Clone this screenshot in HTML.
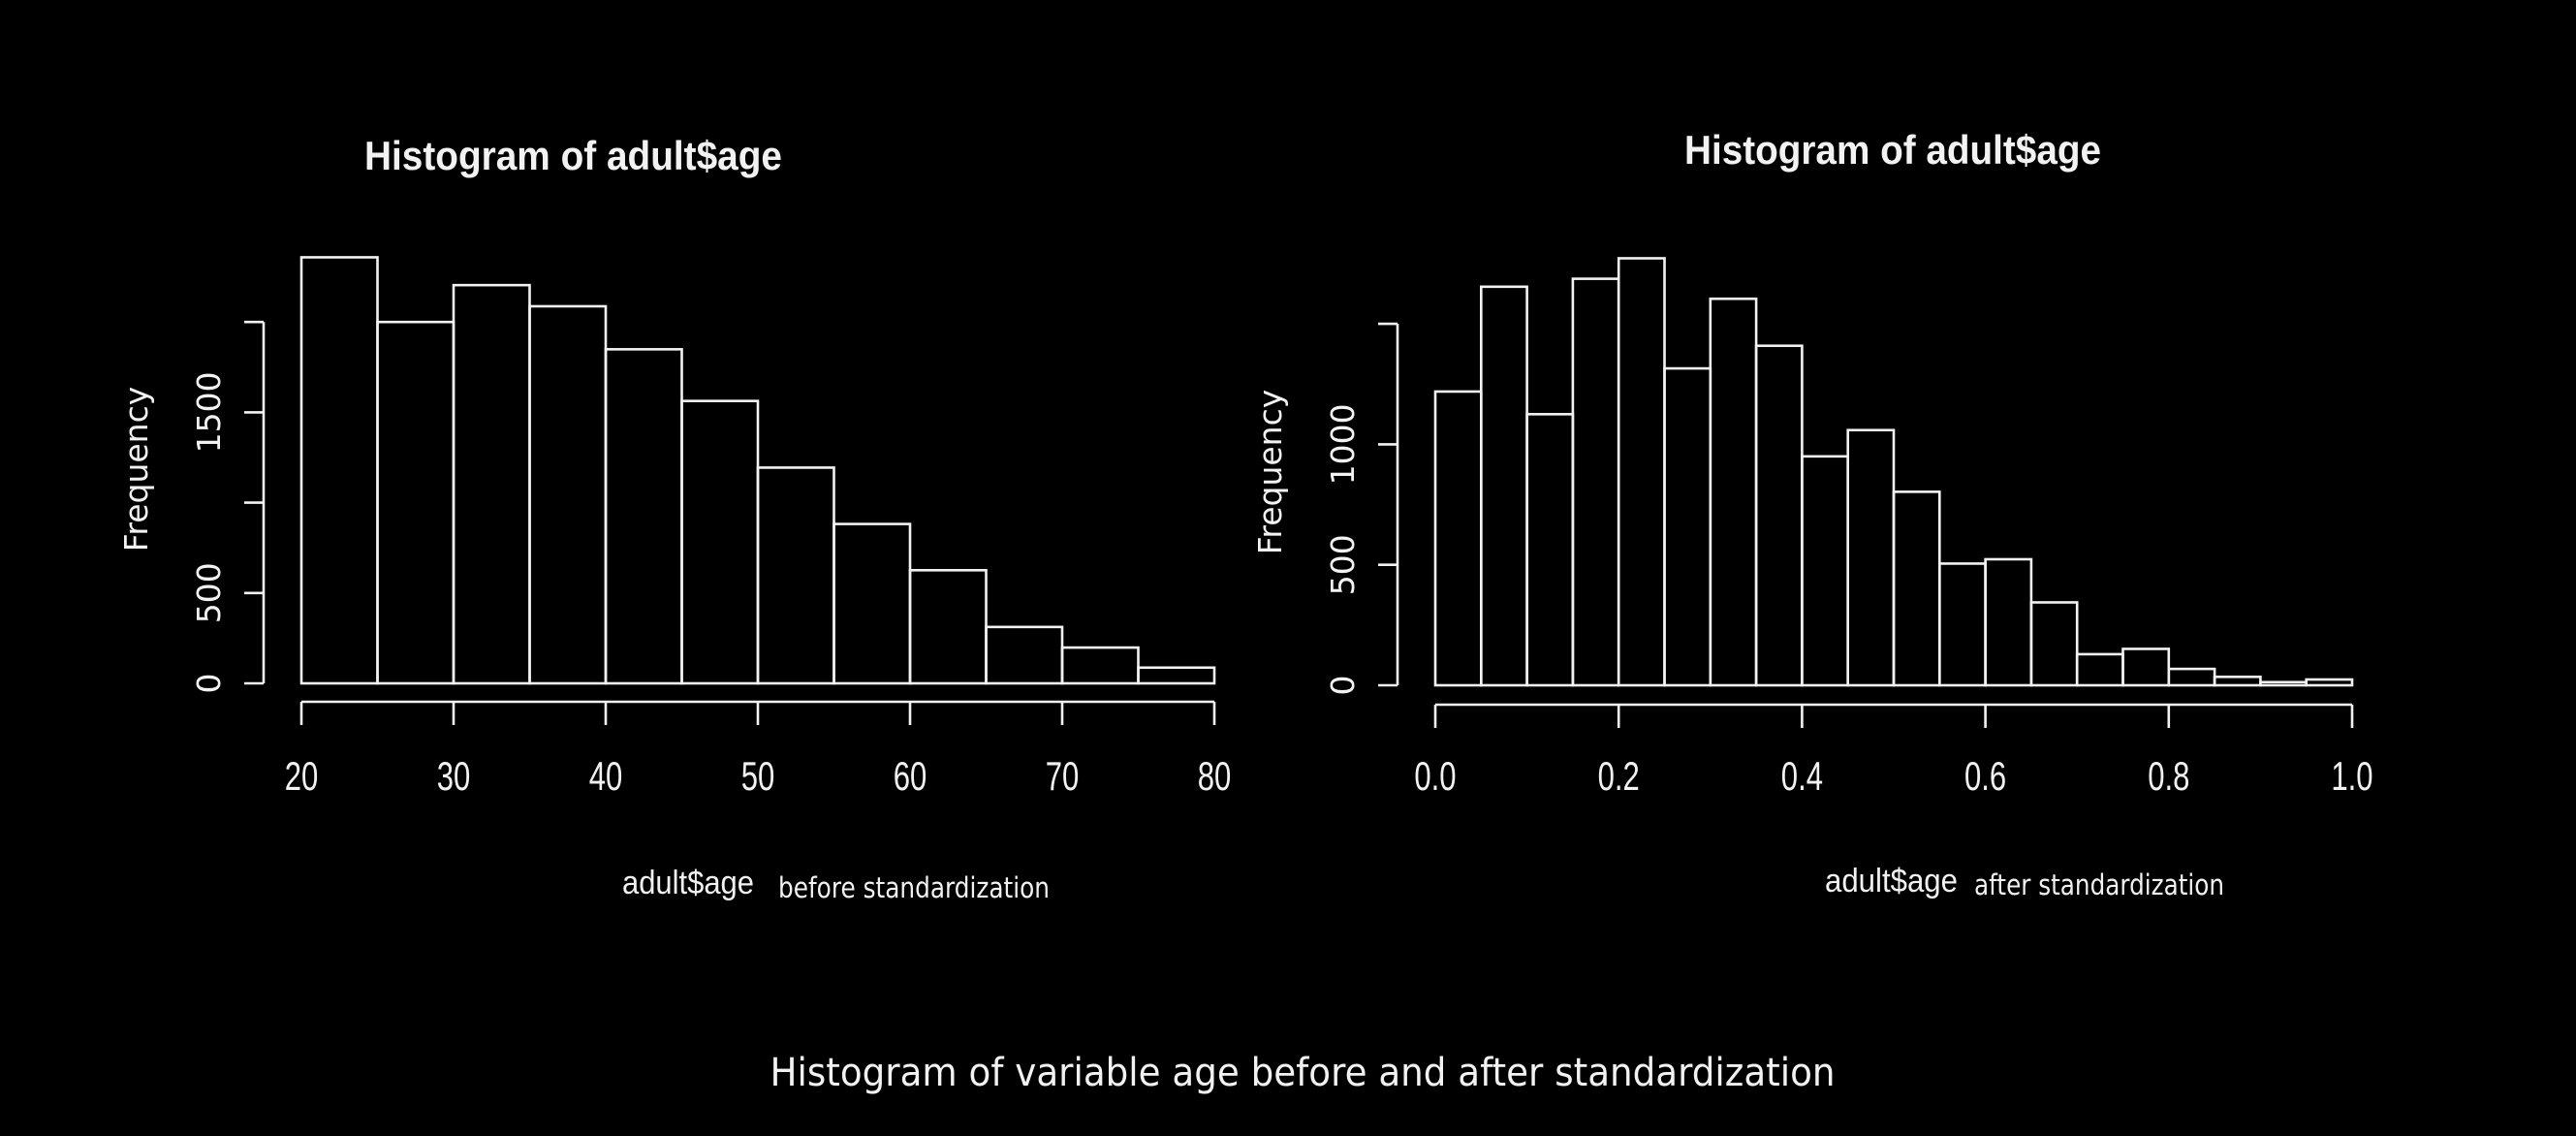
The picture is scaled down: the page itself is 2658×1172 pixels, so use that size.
<!DOCTYPE html>
<html><head><meta charset="utf-8">
<style>
html,body{margin:0;padding:0;background:#000;}
svg{display:block;}
text{fill:#f2f2f2;font-family:"Liberation Sans",sans-serif;}
</style></head>
<body>
<svg id="chart" width="2658" height="1172" viewBox="0 0 2658 1172" xmlns="http://www.w3.org/2000/svg">
<rect width="2658" height="1172" fill="#000"/>
<g id="left"></g>
<g id="right"></g>
<text x="1344" y="1120" font-size="40" text-anchor="middle" textLength="1099" lengthAdjust="spacingAndGlyphs" style="font-family:'DejaVu Sans','Liberation Sans',sans-serif">Histogram of variable age before and after standardization</text>
</svg>
<script>
// Left histogram data (age before standardization)
const leftBreaks = [20,25,30,35,40,45,50,55,60,65,70,75,80];
const leftCounts = [2358,2000,2204,2087,1849,1563,1194,882,626,312,198,87];
const leftXTicks = [20,30,40,50,60,70,80];
const leftXTickLabels = ["20","30","40","50","60","70","80"];
const leftYTicks = [0,500,1000,1500,2000];
const leftYTickLabels = ["0","500","","1500",""];
// Right histogram data (age after standardization)
const rightBreaks = [0,0.05,0.1,0.15,0.2,0.25,0.3,0.35,0.4,0.45,0.5,0.55,0.6,0.65,0.7,0.75,0.8,0.85,0.9,0.95,1.0];
const rightCounts = [1219,1654,1125,1687,1772,1315,1604,1409,950,1059,803,505,523,344,129,151,68,35,13,24];
const rightXTicks = [0,0.2,0.4,0.6,0.8,1.0];
const rightXTickLabels = ["0.0","0.2","0.4","0.6","0.8","1.0"];
const rightYTicks = [0,500,1000,1500];
const rightYTickLabels = ["0","500","1000",""];

const NS="http://www.w3.org/2000/svg";
function mk(tag,attrs,parent){const e=document.createElementNS(NS,tag);for(const k in attrs)e.setAttribute(k,attrs[k]);parent.appendChild(e);return e;}

function draw(g,cfg){
  const xs=v=>cfg.x0+(v-cfg.d0)/(cfg.d1-cfg.d0)*(cfg.x1-cfg.x0);
  const ys=v=>cfg.y0-(v/cfg.yUnit)*cfg.yPx;
  const st={stroke:"#f2f2f2","stroke-width":"2.6",fill:"none"};
  // bars
  cfg.counts.forEach((c,i)=>{
    const a=xs(cfg.breaks[i]),b=xs(cfg.breaks[i+1]);
    const r=mk("rect",Object.assign({x:a,y:ys(c),width:b-a,height:ys(0)-ys(c)},st),g);
    
    
  });
  // x axis
  const xa=mk("line",Object.assign({x1:xs(cfg.xTicks[0]),x2:xs(cfg.xTicks[cfg.xTicks.length-1]),y1:cfg.axY,y2:cfg.axY},st),g);
  
  
  cfg.xTicks.forEach((t,i)=>{
    const l=mk("line",Object.assign({x1:xs(t),x2:xs(t),y1:cfg.axY,y2:cfg.axY+24},st),g);
    
    
    const tx=mk("text",{x:xs(t)/0.74,y:815,"font-size":42,"text-anchor":"middle",transform:"scale(0.74,1)"},g);
    tx.textContent=cfg.xLabels[i];
    
    
  });
  // y axis
  const ya=mk("line",Object.assign({x1:cfg.axX,x2:cfg.axX,y1:ys(cfg.yTicks[0]),y2:ys(cfg.yTicks[cfg.yTicks.length-1])},st),g);
  
  
  cfg.yTicks.forEach((t,i)=>{
    const l=mk("line",Object.assign({x1:cfg.axX-20,x2:cfg.axX,y1:ys(t),y2:ys(t)},st),g);
    
    
    if(cfg.yLabels[i]){
      const tx=mk("text",{x:0,y:0,"font-size":33,"text-anchor":"middle",transform:`translate(${cfg.lblX+12},${ys(t)}) rotate(-90)`,style:"font-family:'DejaVu Sans',sans-serif"},g);
      tx.textContent=cfg.yLabels[i];
      
      
    }
  });
  const yt=mk("text",{x:0,y:0,"font-size":33,"text-anchor":"middle",transform:`translate(${cfg.freqX+12},${cfg.freqY}) rotate(-90)`,style:"font-family:'DejaVu Sans',sans-serif"},g);
  yt.textContent="Frequency";
  
  
  const tt=mk("text",{x:cfg.titleX,y:cfg.titleY,"font-size":42,"font-weight":"bold",textLength:cfg.titleW,lengthAdjust:"spacingAndGlyphs"},g);
  tt.textContent="Histogram of adult$age";
  
  
  const xl=mk("text",{x:cfg.xl1[0],y:cfg.xl1[2],"font-size":34,textLength:cfg.xl1[1]-cfg.xl1[0],lengthAdjust:"spacingAndGlyphs"},g);
  xl.textContent="adult$age";
  
  
  const xn=mk("text",{x:cfg.xl2[0],y:cfg.xl2[2],"font-size":29,textLength:cfg.xl2[1]-cfg.xl2[0],lengthAdjust:"spacingAndGlyphs",style:"font-family:'DejaVu Sans',sans-serif"},g);
  xn.textContent=cfg.note;
  
  
}

draw(document.getElementById('left'),{
  breaks:leftBreaks,counts:leftCounts,xTicks:leftXTicks,xLabels:leftXTickLabels,yTicks:leftYTicks,yLabels:leftYTickLabels,
  d0:20,d1:80,x0:311,x1:1253,y0:705,yUnit:500,yPx:93.2,axY:724,axX:272,lblX:215,freqX:140,freqY:484,
  titleX:376,titleY:175,titleW:431,xl1:[642,778,922],xl2:[803,1083,926],note:"before standardization"
});
draw(document.getElementById('right'),{
  breaks:rightBreaks,counts:rightCounts,xTicks:rightXTicks,xLabels:rightXTickLabels,yTicks:rightYTicks,yLabels:rightYTickLabels,
  d0:0,d1:1,x0:1481,x1:2427,y0:707,yUnit:500,yPx:124.3,axY:727,axX:1442,lblX:1385,freqX:1310,freqY:487,
  titleX:1738,titleY:169,titleW:430,xl1:[1883,2020,920],xl2:[2037,2295,923],note:"after standardization"
});
</script>
</body></html>
